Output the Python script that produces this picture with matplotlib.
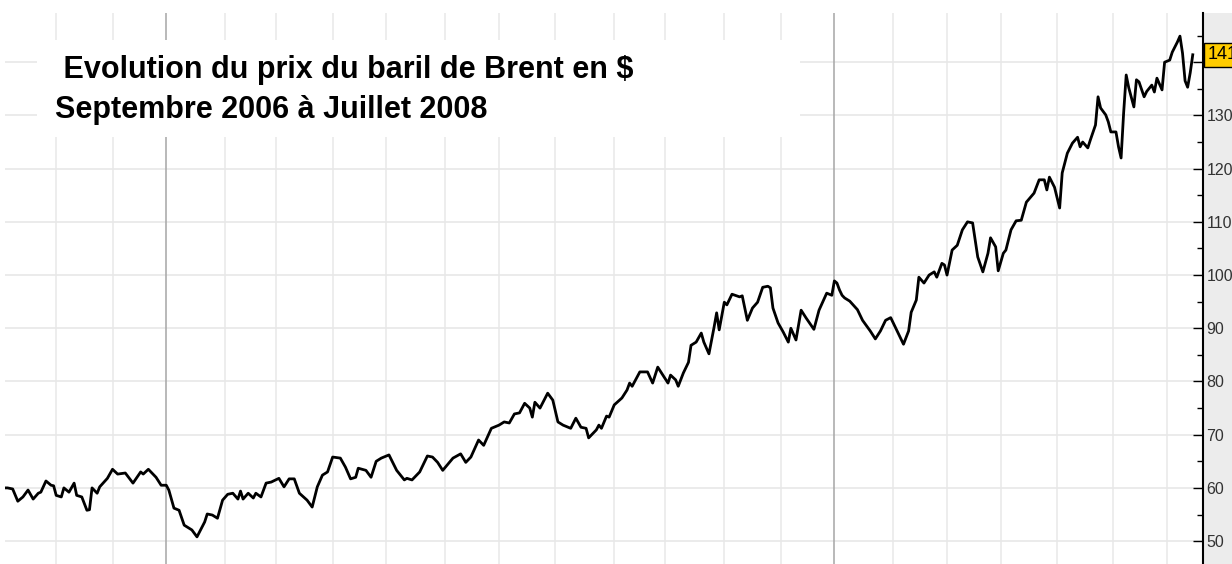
import pandas as pd
import matplotlib.pyplot as plt
from matplotlib.patches import Rectangle
from matplotlib.ticker import MultipleLocator

# numéro de séance (jour ouvré depuis le 4 octobre 2006) et prix du baril ($)
jour = [0, 1, 3, 5, 7, 9, 11, 13, 14, 16, 18, 19, 20, 22, 23, 25, 27, 28, 30, 32,
        33, 34, 36, 37, 40, 42, 44, 47, 50, 53, 54, 56, 59, 61, 63, 64, 66, 68, 70, 72,
        73, 75, 78, 79, 81, 83, 85, 87, 89, 91, 92, 93, 95, 97, 98, 100, 102, 104, 107, 109,
        111, 113, 115, 118, 120, 122, 124, 126, 128, 131, 133, 135, 137, 138, 141, 143, 145, 147, 150, 153,
        156, 157, 159, 162, 165, 167, 169, 171, 175, 178, 180, 182, 185, 187, 190, 193, 195, 197, 199, 201,
        203, 205, 206, 207, 209, 212, 214, 216, 218, 221, 223, 225, 227, 228, 231, 232, 233, 235, 236, 238,
        241, 243, 244, 245, 248, 251, 253, 255, 257, 259, 260, 262, 263, 265, 267, 268, 270, 272, 273, 275,
        277, 278, 279, 281, 282, 284, 287, 288, 290, 292, 294, 296, 298, 299, 300, 302, 304, 306, 307, 309,
        311, 313, 316, 318, 321, 323, 324, 325, 326, 327, 328, 330, 333, 335, 338, 340, 342, 344, 346, 348,
        350, 351, 353, 354, 356, 357, 359, 361, 363, 364, 366, 367, 368, 370, 372, 374, 376, 378, 379, 380,
        382, 384, 385, 387, 388, 390, 391, 393, 395, 397, 399, 402, 404, 406, 407, 408, 410, 412, 413, 415,
        417, 419, 420, 421, 423, 424, 426, 427, 428, 430, 431, 432, 434, 435, 436, 437, 438, 439, 441, 442,
        443, 445, 446, 448, 449, 450, 452, 453, 455, 456, 458, 459, 460, 461, 462, 463, 464]
prix = [60.0, 60.0, 59.8, 57.5, 58.3, 59.6, 57.9, 59.0, 59.2, 61.3, 60.5, 60.4, 58.6, 58.3, 60.0, 59.2, 60.9, 58.6, 58.3, 55.8,
        55.9, 60.0, 59.0, 60.2, 61.8, 63.5, 62.6, 62.8, 60.9, 63.0, 62.6, 63.5, 62.0, 60.5, 60.5, 59.6, 56.2, 55.8, 53.0, 52.4,
        52.1, 50.8, 53.6, 55.1, 54.9, 54.3, 57.7, 58.8, 59.0, 57.9, 59.4, 57.9, 59.0, 58.1, 59.0, 58.3, 60.9, 61.1, 61.8, 60.2,
        61.7, 61.7, 59.0, 57.7, 56.4, 60.2, 62.4, 63.0, 65.8, 65.6, 63.9, 61.7, 62.0, 63.7, 63.3, 62.0, 65.0, 65.6, 66.2, 63.3,
        61.5, 61.8, 61.5, 63.0, 66.0, 65.8, 64.8, 63.3, 65.6, 66.4, 64.8, 65.8, 69.0, 68.0, 71.2, 71.8, 72.4, 72.2, 73.9, 74.1,
        75.9, 75.0, 73.3, 76.1, 75.0, 77.8, 76.5, 72.4, 71.8, 71.2, 73.1, 71.4, 71.2, 69.4, 70.9, 71.8, 71.2, 73.5, 73.3, 75.6,
        76.9, 78.4, 79.7, 79.1, 81.8, 81.8, 79.7, 82.7, 81.2, 79.7, 81.2, 80.3, 79.1, 81.6, 83.6, 86.8, 87.4, 89.1, 87.4, 85.2,
        90.2, 92.9, 89.7, 94.9, 94.4, 96.4, 95.9, 96.1, 91.5, 93.8, 94.9, 97.7, 97.9, 97.6, 93.8, 91.0, 89.3, 87.4, 90.0, 87.8,
        93.4, 91.9, 89.8, 93.4, 96.6, 96.2, 98.9, 98.5, 97.2, 96.2, 95.7, 95.1, 93.5, 91.5, 89.5, 88.0, 89.5, 91.5, 92.0, 90.0,
        88.0, 87.0, 89.5, 93.0, 95.3, 99.6, 98.5, 100.0, 100.6, 99.6, 102.2, 101.9, 100.0, 104.7, 105.6, 108.5, 110.0, 109.8, 106.6, 103.4,
        100.6, 104.1, 107.0, 105.3, 100.8, 104.1, 104.7, 108.5, 110.2, 110.3, 113.7, 115.4, 117.9, 117.9, 116.0, 118.4, 116.5, 112.6, 119.2, 122.9,
        124.8, 125.9, 124.1, 125.0, 123.9, 125.4, 128.2, 133.5, 131.4, 130.1, 128.8, 126.9, 126.9, 124.1, 122.0, 130.5, 137.6, 135.2, 131.6, 136.7,
        136.3, 133.5, 134.5, 135.7, 134.4, 137.0, 134.8, 140.0, 140.4, 141.9, 143.8, 144.9, 141.7, 136.5, 135.3, 138.0, 141.4]

titre = " Evolution du prix du baril de Brent en $\nSeptembre 2006 à Juillet 2008"
debut = "2006-10-04"

# premier jour ouvré de chaque mois -> lignes verticales
seances = pd.bdate_range(debut, "2008-07-31")
num = pd.Series(range(len(seances)), index=seances)
premiers = num.groupby([seances.year, seances.month]).first()

W, H = 1232, 564
fig = plt.figure(figsize=(W / 100, H / 100), dpi=100)
ax = fig.add_axes([5 / W, 0, (1203 - 5) / W, 551 / H])
ax.set_xlim(0, 468)
ax.set_ylim(45.7, 149.25)

for (an, m), j in premiers.items():
    if j == 0:
        continue
    if m == 1:
        ax.axvline(j, color="#a6a6a6", lw=1.1, zorder=1)
    else:
        ax.axvline(j, color="#e8e8e8", lw=1.1, zorder=0)
for y in range(50, 141, 10):
    ax.axhline(y, color="#e8e8e8", lw=1.2, zorder=0)

ax.plot(jour, prix, color="black", lw=2, zorder=3)

for s in ["left", "top", "bottom"]:
    ax.spines[s].set_visible(False)
ax.spines["right"].set_linewidth(1.5)
ax.set_xticks([])
ax.yaxis.tick_right()
ax.set_yticks(range(50, 141, 10))
ax.yaxis.set_minor_locator(MultipleLocator(5))
ax.tick_params(axis="y", which="major", direction="in", length=7, width=1,
               pad=2.5, labelsize=11.5, labelcolor="#333333")
ax.tick_params(axis="y", which="minor", direction="in", length=4, width=1)
for lab in ax.get_yticklabels():
    lab.set_family("Liberation Sans")

# bandeau gris à droite de l'échelle
fig.add_artist(Rectangle((1203 / W, 0), 29 / W, 551 / H, transform=fig.transFigure,
                         facecolor="#ececec", edgecolor="none", zorder=-1))

# dernier cours
ax.annotate(f"{prix[-1]:.2f}", xy=(1, prix[-1]), xycoords=("axes fraction", "data"),
            xytext=(3.5, 0), textcoords="offset points", ha="left", va="center",
            fontsize=13, family="Liberation Sans",
            bbox=dict(boxstyle="square,pad=0.2", fc="#ffcc00", ec="black", lw=1),
            annotation_clip=False, zorder=5)

# cartouche du titre
fig.add_artist(Rectangle((37 / W, 1 - 137 / H), (800 - 37) / W, 97 / H, transform=fig.transFigure,
                         facecolor="white", edgecolor="none", zorder=1))
fig.text(55 / W, 1 - 55 / H, titre, ha="left", va="top", fontsize=22, fontweight="bold",
         family="Liberation Sans", linespacing=1.42, zorder=2)

fig.savefig("out.png", dpi=100)
